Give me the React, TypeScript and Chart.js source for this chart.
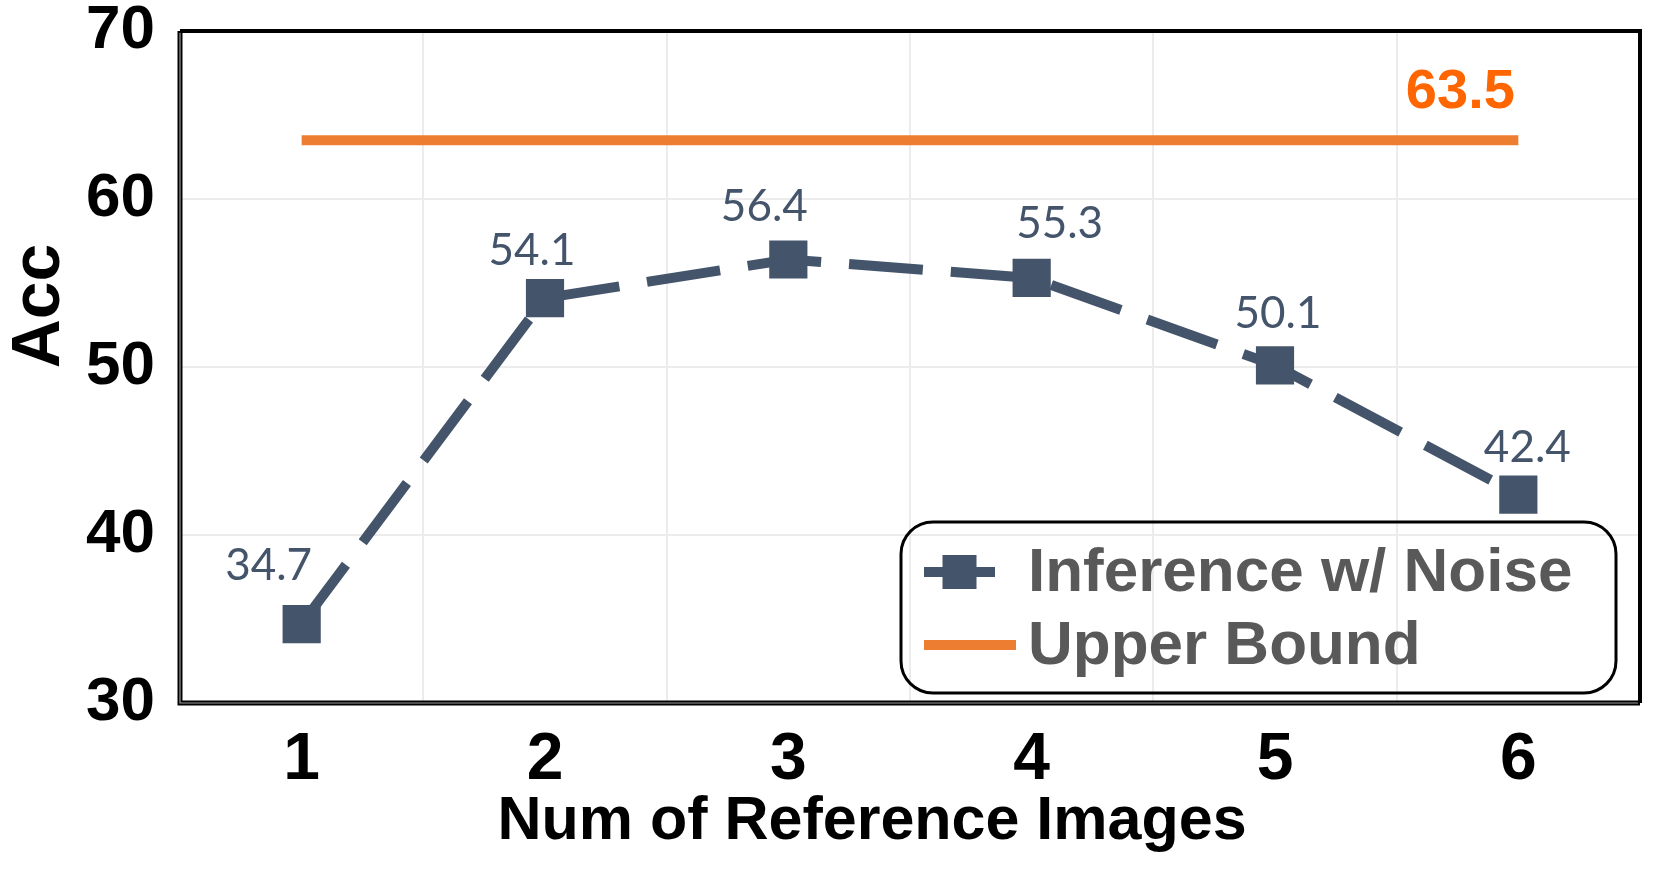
import React, { useEffect, useRef } from 'react';
import { Chart, registerables } from 'chart.js';

Chart.register(...registerables);

const categories = ['1', '2', '3', '4', '5', '6'];
const noiseValues = [34.7, 54.1, 56.4, 55.3, 50.1, 42.4];
const upperBoundValues = [63.5, 63.5, 63.5, 63.5, 63.5, 63.5];
const seriesLabels = ['Inference w/ Noise', 'Upper Bound'];
const xTitle = 'Num of Reference Images';
const yTitle = 'Acc';
const yMin = 30;
const yMax = 70;
const yStep = 10;

const NOISE_COLOR = '#44546A';
const UPPER_COLOR = '#ED7D31';
const UPPER_LABEL_COLOR = '#FF6600';
const LEGEND_TEXT = '#595959';
const MAIN_FONT = '"Liberation Sans", Arial, sans-serif';
const LABEL_FONT = 'Lato, "Noto Sans", sans-serif';

// label placement relative to each marker (style only)
const labelOffsets: [number, number][] = [
  [-33, -58],
  [-13, -47],
  [-24, -53],
  [28, -54],
  [3, -52],
  [9, -47],
];

const customPlugin = {
  id: 'customDecor',
  afterDatasetsDraw(chart: any) {
    const ctx = chart.ctx;
    const meta0 = chart.getDatasetMeta(0);
    const meta1 = chart.getDatasetMeta(1);
    ctx.save();
    ctx.textAlign = 'center';
    ctx.textBaseline = 'middle';
    ctx.fillStyle = NOISE_COLOR;
    ctx.font = `400 44px ${LABEL_FONT}`;
    meta0.data.forEach((pt: any, i: number) => {
      const v = chart.data.datasets[0].data[i];
      const [dx, dy] = labelOffsets[i];
      ctx.fillText(Number(v).toFixed(1), pt.x + dx, pt.y + dy);
    });
    const last = meta1.data[meta1.data.length - 1];
    const uv = chart.data.datasets[1].data[meta1.data.length - 1];
    ctx.fillStyle = UPPER_LABEL_COLOR;
    ctx.font = `700 56px ${MAIN_FONT}`;
    ctx.fillText(Number(uv).toFixed(1), last.x - 58, last.y - 48);
    ctx.restore();
  },
  afterDraw(chart: any) {
    const ctx = chart.ctx;
    const a = chart.chartArea;
    ctx.save();
    // frame
    ctx.strokeStyle = '#000';
    ctx.lineWidth = 4;
    ctx.beginPath();
    ctx.moveTo(a.left, a.top);
    ctx.lineTo(a.right, a.top);
    ctx.lineTo(a.right, a.bottom);
    ctx.stroke();
    ctx.lineWidth = 5;
    ctx.beginPath();
    ctx.moveTo(a.right, a.bottom);
    ctx.lineTo(a.left, a.bottom);
    ctx.lineTo(a.left, a.top);
    ctx.stroke();
    ctx.strokeStyle = '#9a9a9a';
    ctx.lineWidth = 1.2;
    ctx.beginPath();
    ctx.moveTo(a.right - 2, a.bottom);
    ctx.lineTo(a.left, a.bottom);
    ctx.lineTo(a.left, a.top + 2);
    ctx.stroke();

    // legend
    const lx = 901, ly = 522, lw = 715, lh = 171;
    ctx.strokeStyle = '#000';
    ctx.lineWidth = 3;
    ctx.beginPath();
    (ctx as any).roundRect(lx, ly, lw, lh, 32);
    ctx.stroke();

    const ds0 = chart.data.datasets[0];
    const ds1 = chart.data.datasets[1];
    // item 1
    const y1 = 572;
    ctx.strokeStyle = ds0.borderColor;
    ctx.lineWidth = 10;
    ctx.beginPath();
    ctx.moveTo(924, y1);
    ctx.lineTo(995, y1);
    ctx.stroke();
    ctx.fillStyle = ds0.borderColor;
    ctx.fillRect(959.5 - 17, y1 - 17, 34, 34);
    // item 2
    const y2 = 645;
    ctx.strokeStyle = ds1.borderColor;
    ctx.beginPath();
    ctx.moveTo(924, y2);
    ctx.lineTo(1016, y2);
    ctx.stroke();

    ctx.fillStyle = LEGEND_TEXT;
    ctx.font = `700 62px ${MAIN_FONT}`;
    ctx.textAlign = 'left';
    ctx.textBaseline = 'middle';
    ctx.fillText(ds0.label, 1028, y1 + 2);
    ctx.fillText(ds1.label, 1028, y2 + 2);

    // axis titles
    ctx.fillStyle = '#000';
    ctx.textAlign = 'center';
    ctx.font = `700 61px ${MAIN_FONT}`;
    ctx.fillText(xTitle, 872, 822);
    ctx.save();
    ctx.translate(40, 306);
    ctx.rotate(-Math.PI / 2);
    ctx.font = `700 68px ${MAIN_FONT}`;
    ctx.fillText(yTitle, 0, 0);
    ctx.restore();

    ctx.restore();
  },
};

export default function App() {
  const ref = useRef<HTMLCanvasElement | null>(null);
  useEffect(() => {
    if (!ref.current) return;
    const chart = new Chart(ref.current, {
      type: 'line',
      data: {
        labels: categories,
        datasets: [
          {
            label: seriesLabels[0],
            data: noiseValues,
            borderColor: NOISE_COLOR,
            backgroundColor: NOISE_COLOR,
            borderWidth: 10,
            borderDash: [74, 28],
            borderCapStyle: 'butt',
            pointStyle: 'rect',
            pointRadius: 27,
            pointHoverRadius: 27,
            pointBorderWidth: 0,
            pointBackgroundColor: NOISE_COLOR,
            tension: 0,
            order: 0,
          },
          {
            label: seriesLabels[1],
            data: upperBoundValues,
            borderColor: UPPER_COLOR,
            backgroundColor: UPPER_COLOR,
            borderWidth: 10,
            borderCapStyle: 'butt',
            pointRadius: 0,
            pointHoverRadius: 0,
            tension: 0,
            order: 1,
          },
        ],
      },
      options: {
        animation: false,
        responsive: false,
        maintainAspectRatio: false,
        devicePixelRatio: 1,
        layout: { autoPadding: false, padding: { left: 0, top: 31, right: 19, bottom: 0 } },
        plugins: {
          legend: { display: false },
          tooltip: { enabled: false },
          title: { display: false },
        },
        scales: {
          x: {
            type: 'category',
            offset: true,
            grid: { offset: true, color: '#ececec', lineWidth: 2, drawTicks: false },
            border: { display: false },
            ticks: {
              color: '#000',
              padding: 18,
              font: { family: MAIN_FONT, size: 66, weight: 'bold' },
            },
            afterFit: (s: any) => {
              s.height = 168;
              s.paddingLeft = 0;
              s.paddingRight = 0;
            },
          },
          y: {
            min: yMin,
            max: yMax,
            grid: { color: '#ececec', lineWidth: 2, drawTicks: false },
            border: { display: false },
            ticks: {
              stepSize: yStep,
              color: '#000',
              padding: 25,
              font: { family: MAIN_FONT, size: 62, weight: 'bold' },
            },
            afterFit: (s: any) => {
              s.width = 180;
              s.paddingTop = 0;
              s.paddingBottom = 0;
            },
          },
        },
      },
      plugins: [customPlugin],
    } as any);
    return () => chart.destroy();
  }, []);
  return (
    <div style={{ position: 'absolute', left: 0, top: 0, width: 1659, height: 871, background: '#fff' }}>
      <canvas ref={ref} width={1659} height={871} style={{ display: 'block', width: 1659, height: 871 }} />
    </div>
  );
}
